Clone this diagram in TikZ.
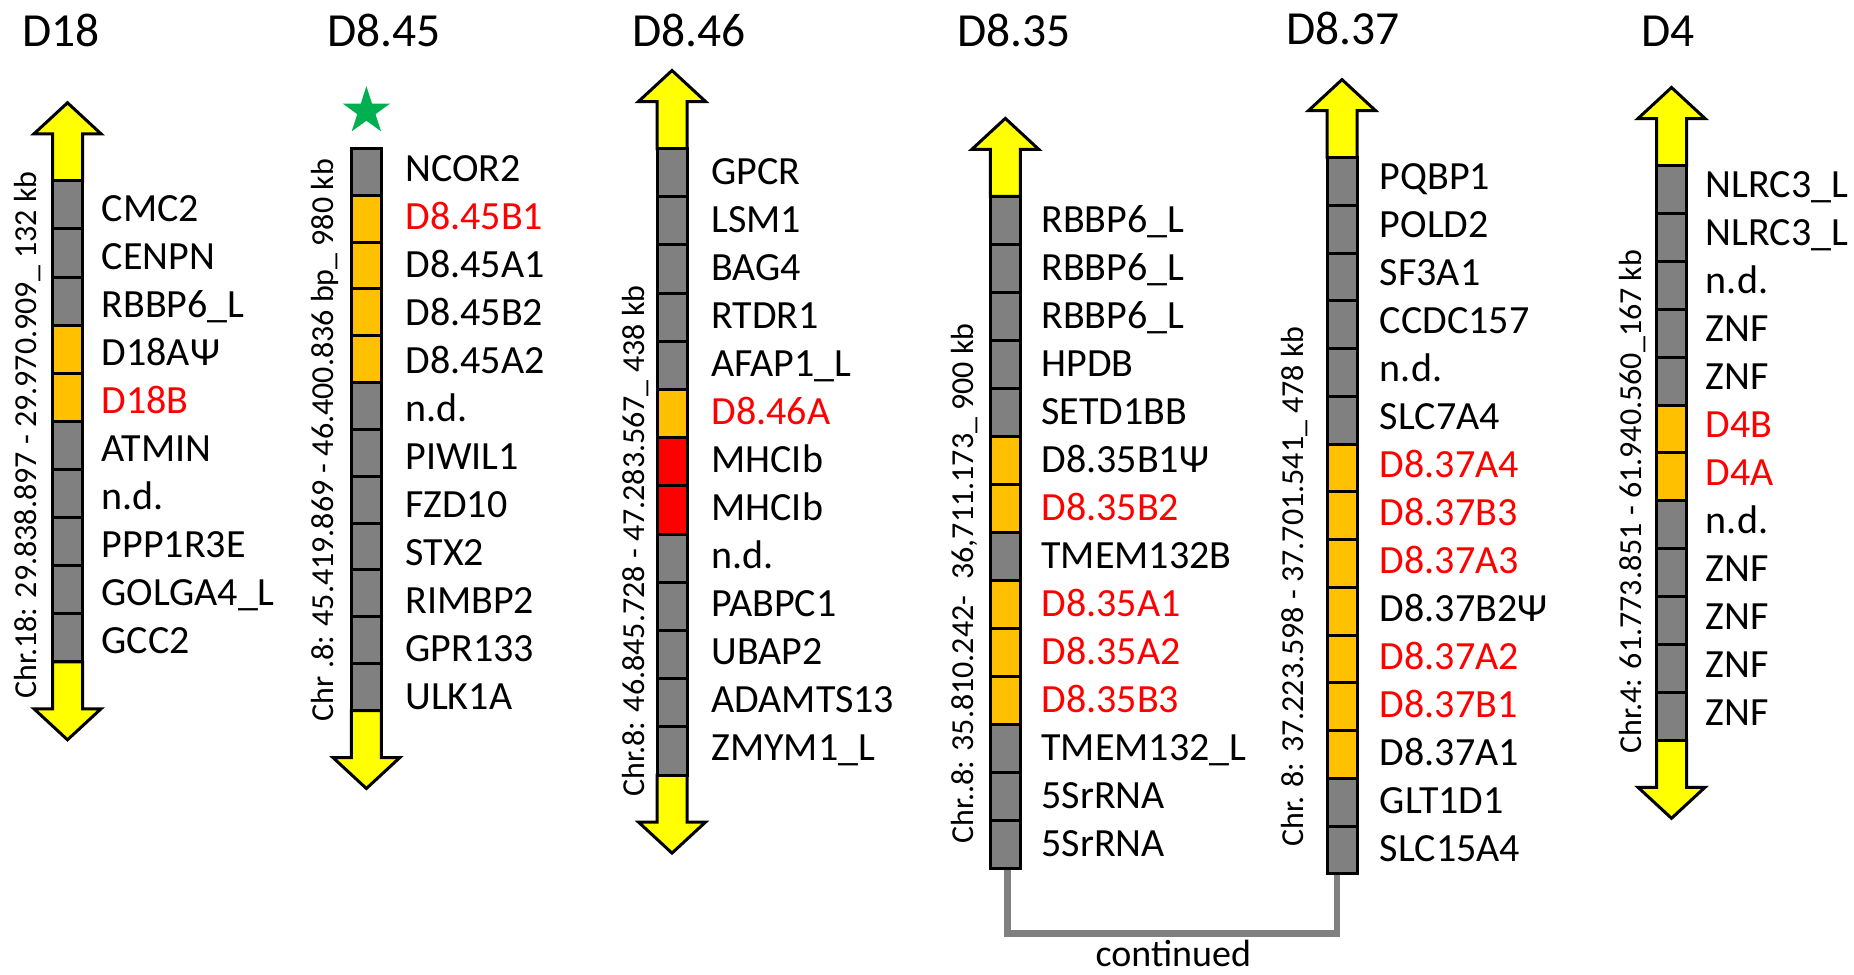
\documentclass[tikz,border=0pt]{standalone}
\usepackage{fontspec}
\setmainfont{Carlito}
\definecolor{gbx}{HTML}{808080}
\definecolor{obx}{HTML}{FFC000}
\definecolor{rbx}{HTML}{FF0000}
\definecolor{ybx}{HTML}{FFFF00}
\definecolor{redtxt}{HTML}{FF0000}
\definecolor{stargreen}{HTML}{00B050}
\definecolor{conngray}{HTML}{808080}
\tikzset{
  gbox/.style={draw=black, line width=3pt, minimum width=30pt, inner sep=0pt, outer sep=0pt, line join=miter},
  glabel/.style={anchor=base west, inner sep=0pt, font=\fontsize{40}{48}\selectfont},
  ttl/.style={anchor=base west, inner sep=0pt, font=\fontsize{47.5}{57}\selectfont},
  rlabel/.style={rotate=90, anchor=base, inner sep=0pt, font=\fontsize{32}{38}\selectfont},
  yarrow/.style={draw=black, fill=ybx, line width=3pt, line join=miter},
  conn/.style={draw=conngray, line width=6.5pt, line join=miter},
  starshape/.style={fill=stargreen, draw=none},
}
% #1 prefix, #2 cx, #3 top, #4 box height, #5 label x, #6 first label baseline, #7 list
\newcommand\drawcolumn[7]{%
  \foreach \fc/\txt/\tc [count=\i] in {#7} {
    \node[gbox, fill=\fc, minimum height=#4pt] (#1b\i) at (#2, {#3+(\i-0.5)*#4}) {};
    \node[glabel, text=\tc] (#1l\i) at (#5, {#6+(\i-1)*48}) {\txt};
  }%
}
\newcommand\toparrow[2]{%
  \draw[yarrow] (#1-15,#2) -- (#1-15,#2-47) -- (#1-33.5,#2-47) -- (#1,#2-78) -- (#1+33.5,#2-47) -- (#1+15,#2-47) -- (#1+15,#2) -- cycle;}
\newcommand\botarrow[2]{%
  \draw[yarrow] (#1-15,#2) -- (#1-15,#2+47) -- (#1-33.5,#2+47) -- (#1,#2+78) -- (#1+33.5,#2+47) -- (#1+15,#2+47) -- (#1+15,#2) -- cycle;}
\begin{document}
\begin{tikzpicture}[x=1pt,y=-1pt]
\useasboundingbox (0,0) rectangle (1854,974);
% titles
\node[ttl] (t18) at (22,46.7) {D18};
\node[ttl] (t845) at (327,46.7) {D8.45};
\node[ttl] (t846) at (632,46.7) {D8.46};
\node[ttl] (t835) at (957,46.7) {D8.35};
\node[ttl] (t837) at (1286,44.5) {D8.37};
\node[ttl] (t4) at (1641,46.7) {D4};
% arrows
\toparrow{67.5}{180.8}
\botarrow{67.5}{661.8}
\botarrow{366.4}{710.5}
\toparrow{672}{148.5}
\botarrow{672}{775.1}
\toparrow{1005.3}{196.4}
\toparrow{1342}{157.6}
\toparrow{1671.5}{165.5}
\botarrow{1671.5}{740.3}
% star
\fill[starshape] (366.4,86.2) -- (372.0,103.5) -- (390.2,103.5) -- (375.5,114.2) -- (381.1,131.4) -- (366.4,120.75) -- (351.7,131.4) -- (357.3,114.2) -- (342.6,103.5) -- (360.8,103.5) -- cycle;
% connector
\coordinate (connlow) at (1172,933.3);
% columns
\drawcolumn{d18}{67.5}{180.8}{48.1}{101.5}{221.7}{gbx/CMC2/black, gbx/CENPN/black, gbx/RBBP6\_L/black, obx/D18AΨ/black, obx/D18B/redtxt, gbx/ATMIN/black, gbx/n.d./black, gbx/PPP1R3E/black, gbx/GOLGA4\_L/black, gbx/GCC2/black}
\drawcolumn{d845}{366.4}{148.3}{46.85}{405.3}{181.5}{gbx/NCOR2/black, obx/D8.45B1/redtxt, obx/D8.45A1/black, obx/D8.45B2/black, obx/D8.45A2/black, gbx/n.d./black, gbx/PIWIL1/black, gbx/FZD10/black, gbx/STX2/black, gbx/RIMBP2/black, gbx/GPR133/black, gbx/ULK1A/black}
\drawcolumn{d846}{672}{148.5}{48.2}{711.3}{184.9}{gbx/GPCR/black, gbx/LSM1/black, gbx/BAG4/black, gbx/RTDR1/black, gbx/AFAP1\_L/black, obx/D8.46A/redtxt, rbx/MHCIb/black, rbx/MHCIb/black, gbx/n.d./black, gbx/PABPC1/black, gbx/UBAP2/black, gbx/ADAMTS13/black, gbx/ZMYM1\_L/black}
\drawcolumn{d835}{1005.3}{196.4}{48.0}{1041.3}{232.3}{gbx/RBBP6\_L/black, gbx/RBBP6\_L/black, gbx/RBBP6\_L/black, gbx/HPDB/black, gbx/SETD1BB/black, obx/D8.35B1Ψ/black, obx/D8.35B2/redtxt, gbx/TMEM132B/black, obx/D8.35A1/redtxt, obx/D8.35A2/redtxt, obx/D8.35B3/redtxt, gbx/TMEM132\_L/black, gbx/5SrRNA/black, gbx/5SrRNA/black}
\drawcolumn{d837}{1342}{157.6}{47.75}{1379.7}{189.4}{gbx/PQBP1/black, gbx/POLD2/black, gbx/SF3A1/black, gbx/CCDC157/black, gbx/n.d./black, gbx/SLC7A4/black, obx/D8.37A4/redtxt, obx/D8.37B3/redtxt, obx/D8.37A3/redtxt, obx/D8.37B2Ψ/black, obx/D8.37A2/redtxt, obx/D8.37B1/redtxt, obx/D8.37A1/black, gbx/GLT1D1/black, gbx/SLC15A4/black}
\drawcolumn{d4}{1671.5}{165.5}{47.9}{1705.7}{197.5}{gbx/NLRC3\_L/black, gbx/NLRC3\_L/black, gbx/n.d./black, gbx/ZNF/black, gbx/ZNF/black, obx/D4B/redtxt, obx/D4A/redtxt, gbx/n.d./black, gbx/ZNF/black, gbx/ZNF/black, gbx/ZNF/black, gbx/ZNF/black}
\draw[conn] ([xshift=2pt,yshift=-1.5pt]d835b14.south) |- (connlow) -| ([xshift=-5pt,yshift=-1.5pt]d837b15.south);
\node[anchor=base, inner sep=0pt, font=\fontsize{38}{46}\selectfont] (cont) at (1173.3,966.5) {continued};
% rotated coordinates
\node[rlabel] (r18) at (36,435) {Chr.18: 29.838.897 - 29.970.909\_ 132 kb};
\node[rlabel] (r845) at (333.3,440) {Chr .8: 45.419.869 - 46.400.836 bp\_ 980 kb};
\node[rlabel] (r846) at (644,541) {Chr.8: 46.845.728 - 47.283.567\_ 438 kb};
\node[rlabel] (r835) at (973.3,583.5) {Chr..8: 35.810.242-\hspace{0.5em}36,711.173\_ 900 kb};
\node[rlabel] (r837) at (1303.3,586.5) {Chr. 8: 37.223.598 - 37.701.541\_ 478 kb};
\node[rlabel] (r4) at (1641.7,501.5) {Chr.4: 61.773.851 - 61.940.560\_167 kb};
\end{tikzpicture}
\end{document}
